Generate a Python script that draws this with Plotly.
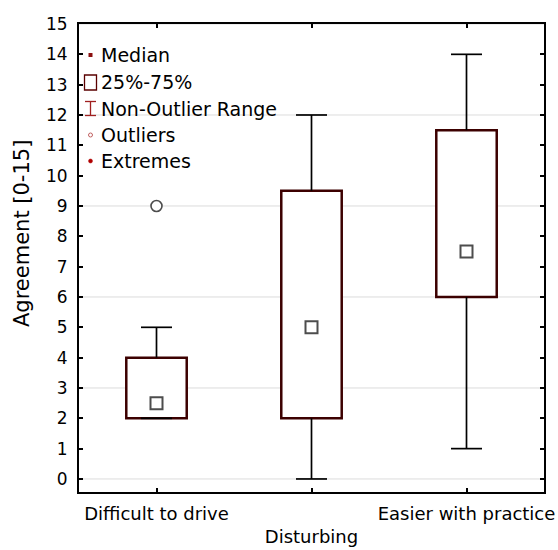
import plotly.graph_objects as go

# ---- data ----
categories = ["Difficult to drive", "Disturbing", "Easier with practice"]
medians = [2.5, 5.0, 7.5]
q1 = [2.0, 2.0, 6.0]
q3 = [4.0, 9.5, 11.5]
whisker_low = [2.0, 0.0, 1.0]
whisker_high = [5.0, 12.0, 14.0]
outlier_cat = [0]
outlier_val = [9.0]
y_ticks = list(range(0, 16))
legend_labels = ["Median", "25%-75%", "Non-Outlier Range", "Outliers", "Extremes"]

FONT = "DejaVu Sans"
BOX_COL = "#3c0000"
W, H = 558, 550
L, R, T, B = 79, 14, 24, 58
PW, PH = W - L - R, H - T - B

def px(x):
    return (x - L) / PW

def py(y):
    return (H - B - y) / PH

xpos = list(range(len(categories)))
cap = 0.1

fig = go.Figure()

# boxes
fig.add_trace(go.Bar(
    x=xpos, base=q1, y=[b - a for a, b in zip(q1, q3)], width=0.39,
    marker=dict(color="white", line=dict(color=BOX_COL, width=2.5)),
    showlegend=False, hoverinfo="skip"))

# whiskers
wx, wy = [], []
for i in xpos:
    wx += [i, i, None, i - cap, i + cap, None]
    wy += [q3[i], whisker_high[i], None, whisker_high[i], whisker_high[i], None]
    wx += [i, i, None, i - cap, i + cap, None]
    wy += [q1[i], whisker_low[i], None, whisker_low[i], whisker_low[i], None]
fig.add_trace(go.Scatter(x=wx, y=wy, mode="lines",
                         line=dict(color="black", width=1.7),
                         showlegend=False, hoverinfo="skip"))

# medians
fig.add_trace(go.Scatter(x=xpos, y=medians, mode="markers",
                         marker=dict(symbol="square", size=12, color="white",
                                     line=dict(color="#4d4d4d", width=2)),
                         showlegend=False))
# outliers
fig.add_trace(go.Scatter(x=outlier_cat, y=outlier_val, mode="markers",
                         marker=dict(symbol="circle", size=11, color="white",
                                     line=dict(color="#4d4d4d", width=1.6)),
                         showlegend=False))

shapes = []
# grid lines every 3
for v in range(0, 16, 3):
    shapes.append(dict(type="line", xref="paper", yref="y", x0=0, x1=1, y0=v, y1=v,
                       line=dict(color="#dcdcdc", width=1), layer="below"))

# legend (drawn manually)
leg_y = [55, 82, 108.5, 135, 161]
sx = 90.5
annotations = []
for lab, yy in zip(legend_labels, leg_y):
    annotations.append(dict(text=lab, xref="paper", yref="paper", x=px(99), y=py(yy),
                            xanchor="left", yanchor="middle", showarrow=False,
                            font=dict(family=FONT, size=19, color="black")))
# Median symbol
shapes.append(dict(type="rect", xref="paper", yref="paper", x0=px(sx - 2), x1=px(sx + 2),
                   y0=py(leg_y[0] + 2), y1=py(leg_y[0] - 2), fillcolor="#8b1010",
                   line=dict(width=0)))
# 25-75 symbol
shapes.append(dict(type="rect", xref="paper", yref="paper", x0=px(84.5), x1=px(96.5),
                   y0=py(leg_y[1] + 8), y1=py(leg_y[1] - 7), fillcolor="rgba(0,0,0,0)",
                   line=dict(color="#5a0000", width=1.3)))
# Non-outlier range symbol
yy = leg_y[2]
for (x0, y0, x1, y1) in [(sx, yy - 7, sx, yy + 7), (85, yy - 7, 96, yy - 7), (85, yy + 7, 96, yy + 7)]:
    shapes.append(dict(type="line", xref="paper", yref="paper", x0=px(x0), x1=px(x1),
                       y0=py(y0), y1=py(y1), line=dict(color="#a02020", width=1.3)))
# Outliers symbol
shapes.append(dict(type="circle", xref="paper", yref="paper", x0=px(sx - 2), x1=px(sx + 2),
                   y0=py(leg_y[3] + 2), y1=py(leg_y[3] - 2), fillcolor="white",
                   line=dict(color="#c06060", width=1)))
# Extremes symbol
shapes.append(dict(type="circle", xref="paper", yref="paper", x0=px(sx - 2), x1=px(sx + 2),
                   y0=py(leg_y[4] + 2), y1=py(leg_y[4] - 2), fillcolor="#b00000",
                   line=dict(color="#b00000", width=0.5)))

# y axis title
annotations.append(dict(text="Agreement [0-15]", xref="paper", yref="paper",
                        x=px(22), y=py(234), textangle=-90, showarrow=False,
                        xanchor="center", yanchor="middle",
                        font=dict(family=FONT, size=21, color="black")))

ticktext = [("<br>" + c) if i % 2 == 1 else c for i, c in enumerate(categories)]

fig.update_layout(
    width=W, height=H,
    margin=dict(l=L, r=R, t=T, b=B, autoexpand=False),
    paper_bgcolor="white", plot_bgcolor="white",
    shapes=shapes, annotations=annotations,
    showlegend=False,
    font=dict(family=FONT, color="black"),
    xaxis=dict(range=[-0.5, 2.5], tickvals=xpos, ticktext=ticktext,
               ticks="inside", ticklen=4, tickwidth=1.5, tickcolor="black",
               showline=True, linecolor="black", linewidth=2, mirror="ticks",
               showgrid=False, zeroline=False, automargin=False, ticklabelstandoff=4,
               tickfont=dict(family=FONT, size=18, color="black")),
    yaxis=dict(range=[-0.43, 15], tickvals=y_ticks,
               ticks="inside", ticklen=4, tickwidth=1.5, tickcolor="black",
               showline=True, linecolor="black", linewidth=2, mirror="ticks",
               showgrid=False, zeroline=False, automargin=False, ticklabelstandoff=6,
               tickfont=dict(family=FONT, size=17, color="black")),
)

fig.write_html("out.html", config={"displayModeBar": False},
               post_script="document.body.style.margin='0';document.body.style.overflow='hidden';")
